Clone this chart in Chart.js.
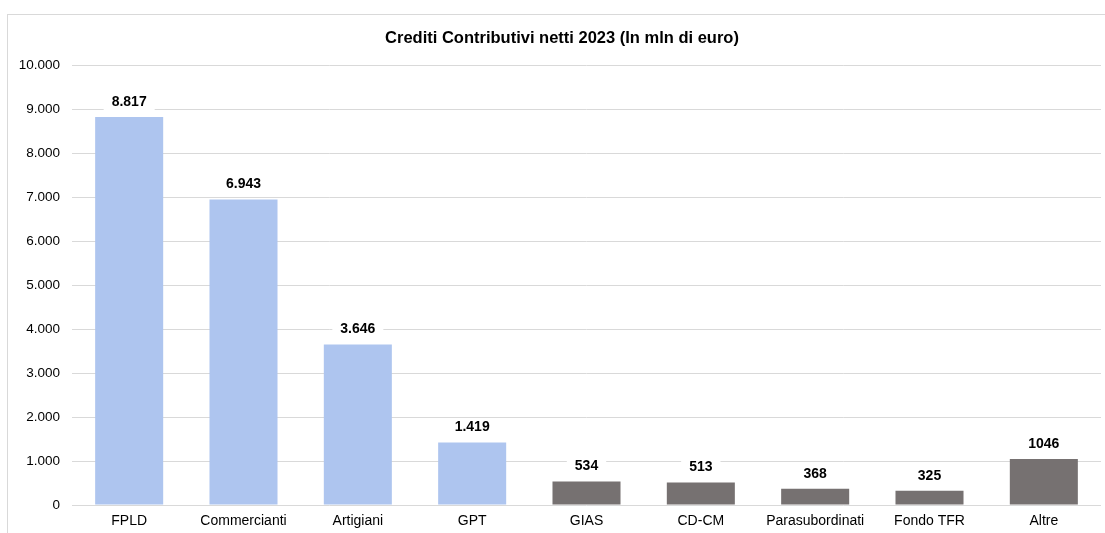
<!DOCTYPE html>
<html>
<head>
<meta charset="utf-8">
<script src="https://cdn.jsdelivr.net/npm/chart.js@4/dist/chart.umd.min.js"></script>
<style>
  html, body { margin: 0; padding: 0; background: #fff; }
  #wrap { width: 1105px; height: 533px; position: relative; }
</style>
</head>
<body>
<div id="wrap"><canvas id="chart" width="1105" height="533"></canvas></div>
<script>
const titleText = 'Crediti Contributivi netti 2023 (In mln di euro)';
const categories = ['FPLD', 'Commercianti', 'Artigiani', 'GPT', 'GIAS', 'CD-CM', 'Parasubordinati', 'Fondo TFR', 'Altre'];
const values = [8817, 6943, 3646, 1419, 534, 513, 368, 325, 1046];
const valueLabels = ['8.817', '6.943', '3.646', '1.419', '534', '513', '368', '325', '1046'];
const barColors = ['#aec5ef', '#aec5ef', '#aec5ef', '#aec5ef', '#767171', '#767171', '#767171', '#767171', '#767171'];
const yMax = 10000;
const yStep = 1000;

const FONT = "'Liberation Sans', Arial, sans-serif";

// italian thousands separator
function fmt(n) {
  return String(n).replace(/\B(?=(\d{3})+(?!\d))/g, '.');
}

// frame + title
const framePlugin = {
  id: 'frame',
  beforeDraw(chart) {
    const c = chart.ctx;
    c.save();
    c.fillStyle = '#fff';
    c.fillRect(0, 0, chart.width, chart.height);
    c.strokeStyle = '#d9d9d9';
    c.lineWidth = 1;
    c.strokeRect(7.5, 14.5, chart.width + 10, chart.height + 10);
    c.fillStyle = '#000';
    c.font = 'bold 16.5px ' + FONT;
    c.textAlign = 'center';
    c.textBaseline = 'middle';
    c.fillText(titleText, 562, 38);
    c.restore();
  }
};

// value labels on white boxes above bars
const labelPlugin = {
  id: 'valueLabels',
  afterDatasetsDraw(chart) {
    const c = chart.ctx;
    const meta = chart.getDatasetMeta(0);
    c.save();
    c.font = 'bold 14px ' + FONT;
    c.textAlign = 'center';
    c.textBaseline = 'middle';
    meta.data.forEach((bar, i) => {
      const txt = valueLabels[i];
      const w = c.measureText(txt).width + 16;
      const cy = bar.y - 15;
      c.fillStyle = '#fff';
      c.fillRect(bar.x - w / 2, cy - 9, w, 18);
      c.fillStyle = '#000';
      c.fillText(txt, bar.x, cy);
    });
    c.restore();
  }
};

new Chart(document.getElementById('chart'), {
  type: 'bar',
  data: {
    labels: categories,
    datasets: [{
      data: values,
      backgroundColor: barColors,
      barPercentage: 0.595,
      categoryPercentage: 1
    }]
  },
  options: {
    responsive: false,
    animation: false,
    layout: { padding: { left: 0, right: 4, top: 65, bottom: 0 } },
    plugins: {
      legend: { display: false },
      title: { display: false },
      tooltip: { enabled: false }
    },
    scales: {
      x: {
        grid: { display: false, drawTicks: false },
        border: { display: false },
        ticks: { color: '#000', font: { family: FONT, size: 14 }, padding: 8, maxRotation: 0 },
        afterFit(scale) { scale.height = 28; }
      },
      y: {
        min: 0,
        max: yMax,
        grid: { color: '#d9d9d9', lineWidth: 1, drawTicks: false },
        border: { display: false },
        ticks: {
          stepSize: yStep,
          color: '#000',
          font: { family: FONT, size: 13.5 },
          padding: 12,
          callback: v => fmt(v)
        },
        afterFit(scale) { scale.width = 72; }
      }
    }
  },
  plugins: [framePlugin, labelPlugin]
});
</script>
</body>
</html>
